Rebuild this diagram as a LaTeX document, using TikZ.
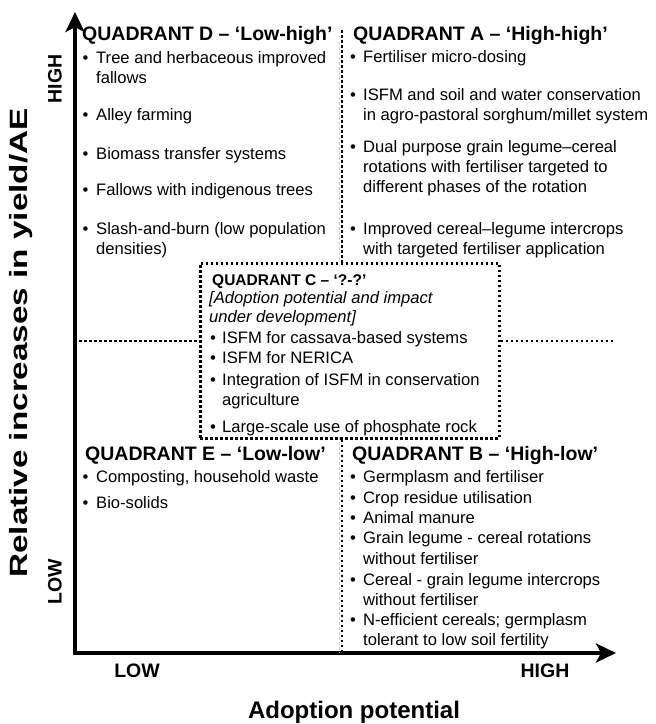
\documentclass[tikz,border=0pt]{standalone}
\usepackage{graphicx}
\usepackage{fontspec}
\setmainfont{Liberation Sans}
\usetikzlibrary{arrows.meta,calc}
\tikzset{
  txt/.style={anchor=base west, inner sep=0pt, font=\fontsize{16.6}{20}\selectfont},
  bul/.style={anchor=base, inner sep=0pt, font=\fontsize{16.6}{20}\selectfont},
  ttl/.style={anchor=base west, inner sep=0pt, font=\bfseries\fontsize{19.5}{22}\selectfont},
  ctl/.style={anchor=base west, inner sep=0pt, font=\bfseries\fontsize{15.5}{18}\selectfont},
  cit/.style={anchor=base west, inner sep=0pt, font=\itshape\fontsize{16.6}{20}\selectfont},
  axl/.style={inner sep=0pt, font=\bfseries\fontsize{19.5}{22}\selectfont},
  axt/.style={inner sep=0pt, font=\bfseries\fontsize{24}{28}\selectfont},
  dotl/.style={line width=2.5pt, dash pattern=on 2.5pt off 2.5pt},
  greyl/.style={line width=0.6pt, gray!40, dash pattern=on 3pt off 2pt},
  axis/.style={line width=4pt, {Stealth[length=20pt,width=19pt,inset=5pt]}-{Stealth[length=20pt,width=19pt,inset=5pt]}}
}
\newcommand\itm[5]{\node[bul] (#1b) at (#2,#4) {\textbullet}; \node[txt] (#1) at (#3,#4) {#5};}
\begin{document}
\begin{tikzpicture}[x=1pt,y=-1pt]
\useasboundingbox (0,0) rectangle (656,724);
% axes
\coordinate (O) at (75,653);
\coordinate (ytip) at (75,12);
\coordinate (xtip) at (616,653);
\draw[axis] (ytip) -- (O) -- (xtip);
% grey dashed guide
\coordinate (g1) at (339,42);
\coordinate (g2) at (339,262);
\coordinate (g3) at (339,437);
\coordinate (g4) at (339,653);
\draw[greyl] (g1) -- (g2) (g3) -- (g4);
% quadrant C box
\node[draw, dotl, minimum width=299pt, minimum height=175pt, inner sep=0pt, anchor=north west] (C) at (199,262) {};
% dotted dividers
\coordinate (vt) at (342,30);
\coordinate (vb) at (342,653);
\draw[dotl] (vt) -- (vt |- C.north);
\draw[dotl] (vb |- C.south) -- (vb);
\coordinate (hl) at (79,341);
\coordinate (hr) at (614,341);
\draw[dotl] (hl) -- (hl -| C.west);
\draw[dotl] (hr -| C.east) -- (hr);
% axis labels
\node[axl, rotate=90] (yhigh) at (55,79) {HIGH};
\node[axl, rotate=90] (ylow) at (55,582) {LOW};
\node[axl] (xlow) at (137,671) {LOW};
\node[axl] (xhigh) at (545,671) {HIGH};
\node[axt] (xtitle) at (354,712) {Adoption potential};
\node[inner sep=0pt, font=\bfseries\fontsize{25}{28}\selectfont, rotate=90] (ytitle) at (21,343) {\scalebox{1.33}[1]{Relative increases in yield/AE}};
% Quadrant D
\node[ttl] (Dt) at (82,40) {QUADRANT D – ‘Low-high’};
\itm{D1}{85.5}{96}{63}{Tree and herbaceous improved}
\node[txt] (D1x) at (96,83) {fallows};
\itm{D2}{85.5}{96}{120}{Alley farming}
\itm{D3}{85.5}{96}{159}{Biomass transfer systems}
\itm{D4}{85.5}{96}{195}{Fallows with indigenous trees}
\itm{D5}{85.5}{96}{234}{Slash-and-burn (low population}
\node[txt] (D5x) at (96,254) {densities)};
% Quadrant A
\node[ttl] (At) at (353,40) {QUADRANT A – ‘High-high’};
\itm{A1}{353}{363}{62}{Fertiliser micro-dosing}
\itm{A2}{353}{363}{100}{ISFM and soil and water conservation}
\node[txt] (A2x) at (363,120) {in agro-pastoral sorghum/millet system};
\itm{A3}{353}{363}{152}{Dual purpose grain legume–cereal}
\node[txt] (A3x) at (363,172) {rotations with fertiliser targeted to};
\node[txt] (A3y) at (363,192) {different phases of the rotation};
\itm{A4}{353}{363}{234}{Improved cereal–legume intercrops}
\node[txt] (A4x) at (363,254) {with targeted fertiliser application};
% Quadrant C
\node[ctl] (Ct) at (212,285) {QUADRANT C – ‘?-?’};
\node[cit] (Ci1) at (209,303) {[Adoption potential and impact};
\node[cit] (Ci2) at (209,322) {under development]};
\itm{C1}{213}{222}{343}{ISFM for cassava-based systems}
\itm{C2}{213}{222}{363}{ISFM for NERICA}
\itm{C3}{213}{222}{385}{Integration of ISFM in conservation}
\node[txt] (C3x) at (222,405) {agriculture};
\itm{C4}{213}{222}{432}{Large-scale use of phosphate rock}
% Quadrant E
\node[ttl] (Et) at (85,460) {QUADRANT E – ‘Low-low’};
\itm{E1}{85.5}{96}{482}{Composting, household waste}
\itm{E2}{85.5}{96}{508}{Bio-solids}
% Quadrant B
\node[ttl] (Bt) at (352,460) {QUADRANT B – ‘High-low’};
\itm{B1}{353}{363}{482}{Germplasm and fertiliser}
\itm{B2}{353}{363}{503}{Crop residue utilisation}
\itm{B3}{353}{363}{523}{Animal manure}
\itm{B4}{353}{363}{543}{Grain legume - cereal rotations}
\node[txt] (B4x) at (363,564) {without fertiliser};
\itm{B5}{353}{363}{585}{Cereal - grain legume intercrops}
\node[txt] (B5x) at (363,605) {without fertiliser};
\itm{B6}{353}{363}{625}{N-efficient cereals; germplasm}
\node[txt] (B6x) at (363,645) {tolerant to low soil fertility};
\end{tikzpicture}
\end{document}
